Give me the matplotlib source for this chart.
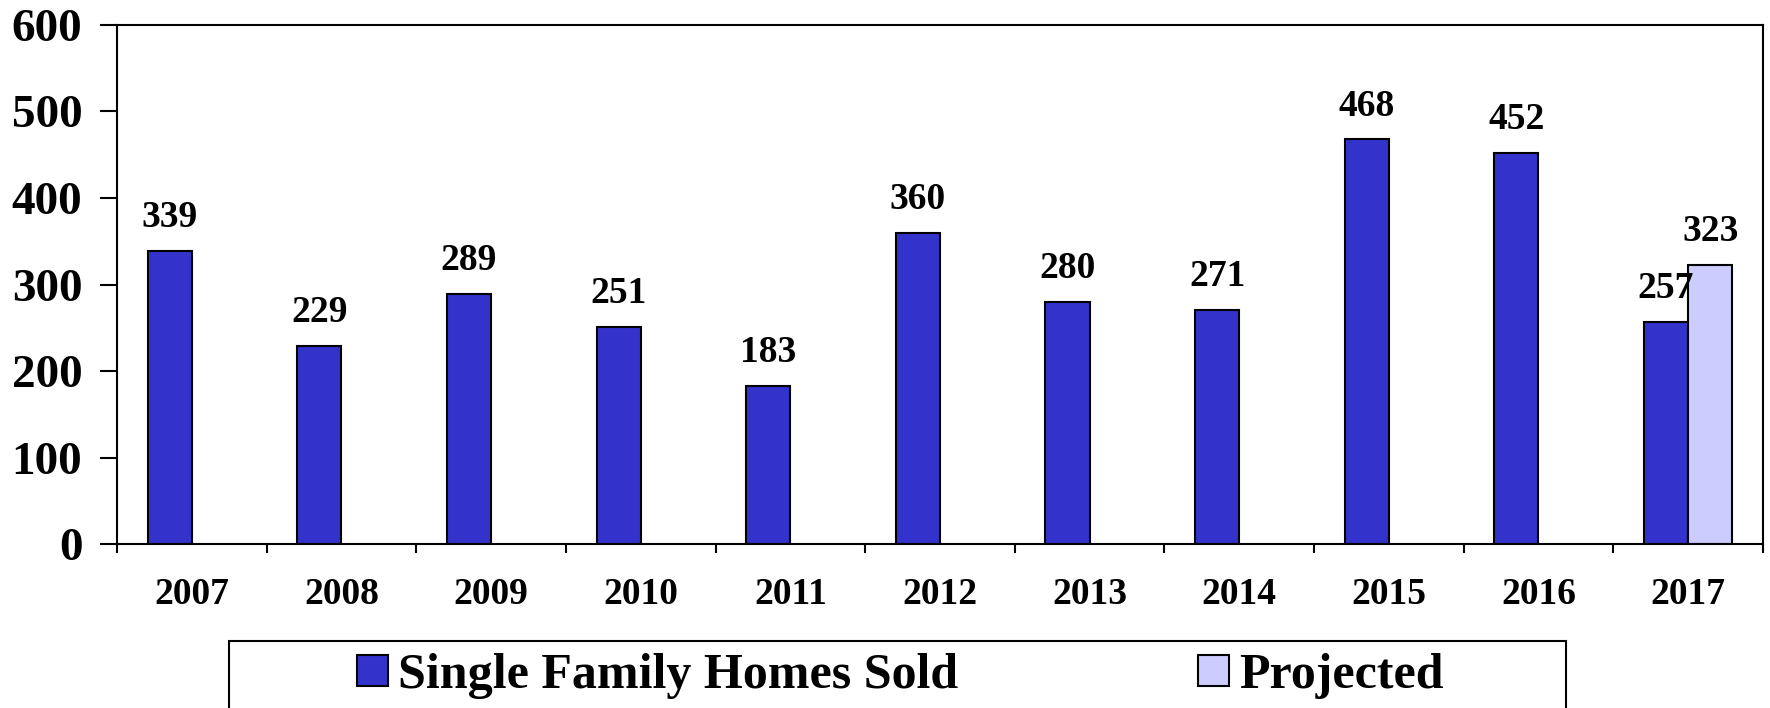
import numpy as np
import matplotlib
matplotlib.use("Agg")
import matplotlib.pyplot as plt
from matplotlib.patches import Rectangle

## Data
years = ["2007", "2008", "2009", "2010", "2011", "2012", "2013", "2014", "2015", "2016", "2017"]
sold = [339, 229, 289, 251, 183, 360, 280, 271, 468, 452, 257]
projected = [None, None, None, None, None, None, None, None, None, None, 323]
y_ticks = [0, 100, 200, 300, 400, 500, 600]

plt.rcParams["font.family"] = ["Liberation Serif", "DejaVu Serif"]
plt.rcParams["font.weight"] = "bold"

fig = plt.figure(figsize=(17.7, 7.08), dpi=100)
ax = fig.add_axes([0.0661, 0.2316, 0.9299, 0.7331])

x = np.arange(len(years))
w = 0.295
ax.bar(x - w / 2, sold, width=w, color="#3333CC", edgecolor="black", linewidth=1.5,
       label="Single Family Homes Sold", zorder=2)

px = [i for i, v in enumerate(projected) if v is not None]
pv = [v for v in projected if v is not None]
ax.bar(np.array(px) + w / 2, pv, width=w, color="#CCCCFF", edgecolor="black", linewidth=1.5,
       label="Projected", zorder=2)

## value labels
for i, v in enumerate(sold):
    ax.text(i - w / 2, v + 18, str(v), ha="center", va="bottom", fontsize=27,
            fontweight="bold", zorder=3)
for i, v in zip(px, pv):
    ax.text(i + w / 2, v + 18, str(v), ha="center", va="bottom", fontsize=27,
            fontweight="bold", zorder=3)

ax.set_xlim(-0.5, len(years) - 0.5)
ax.set_ylim(0, 600)
ax.set_yticks(y_ticks)
ax.set_yticklabels([str(t) for t in y_ticks], fontsize=34, fontweight="bold")
ax.tick_params(axis="y", direction="out", length=12, width=1.5, pad=13)

## x ticks sit between the groups, labels in the middle
ax.set_xticks(np.arange(len(years) + 1) - 0.5)
ax.set_xticklabels([])
ax.set_xticks(x, minor=True)
ax.set_xticklabels(years, minor=True, fontsize=27, fontweight="bold")
ax.tick_params(axis="x", which="major", direction="out", length=6.5, width=1.5)
ax.tick_params(axis="x", which="minor", length=0, pad=24)

for s in ax.spines.values():
    s.set_linewidth(1.5)
    s.set_color("black")

## legend box runs off the bottom of the figure
fig.patches.append(Rectangle((229 / 1770, -0.1), (1566 - 229) / 1770, 0.1 + (708 - 641) / 708,
                             transform=fig.transFigure, fill=False, edgecolor="black",
                             linewidth=1.5))
fig.legend(loc="center", bbox_to_anchor=(900 / 1770, 1 - 676 / 708), ncol=2, frameon=False,
           prop={"size": 36, "weight": "bold"}, handlelength=0.62, handleheight=0.6,
           handletextpad=0.2, columnspacing=4.8)

fig.savefig("out.png", dpi=100)
